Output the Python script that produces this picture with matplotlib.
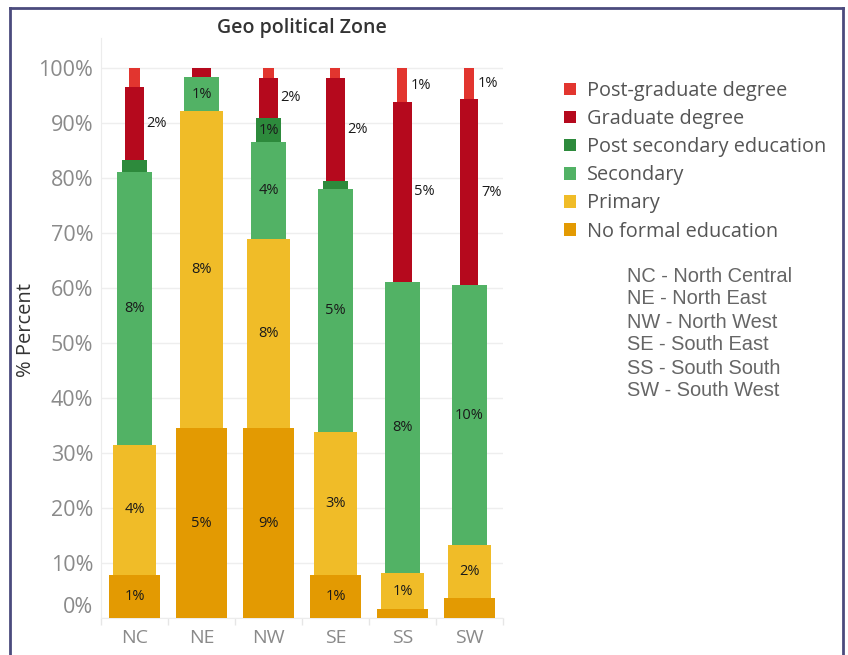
import matplotlib
matplotlib.use("Agg")
import matplotlib.pyplot as plt
from matplotlib.patches import Patch
from matplotlib.lines import Line2D
import numpy as np

# Education level shares (%) by geo political zone, bottom to top
zones = ["NC", "NE", "NW", "SE", "SS", "SW"]
levels = ["No formal education", "Primary", "Secondary",
          "Post secondary education", "Graduate degree", "Post-graduate degree"]

no_formal = [7.8, 34.5, 34.5, 7.8, 1.6, 3.7]
primary = [23.7, 57.7, 34.4, 26.0, 6.6, 9.6]
secondary = [49.6, 6.2, 17.6, 44.2, 53.0, 47.2]
post_secondary = [2.2, 0.0, 4.5, 1.5, 0.0, 0.0]
graduate = [13.3, 1.6, 7.2, 18.7, 32.6, 33.9]
post_graduate = [3.4, 0.0, 1.8, 1.8, 6.2, 5.6]

# Labels shown on the segments
no_formal_lbl = ["1%", "5%", "9%", "1%", "", ""]
primary_lbl = ["4%", "8%", "8%", "3%", "1%", "2%"]
secondary_lbl = ["8%", "1%", "4%", "5%", "8%", "10%"]
post_secondary_lbl = ["", "", "1%", "", "", ""]
graduate_lbl = ["2%", "", "2%", "2%", "5%", "7%"]
post_graduate_lbl = ["", "", "", "", "1%", "1%"]

abbreviations = ["NC - North Central", "NE - North East", "NW - North West",
                 "SE - South East", "SS - South South", "SW - South West"]

series = [no_formal, primary, secondary, post_secondary, graduate, post_graduate]
labels = [no_formal_lbl, primary_lbl, secondary_lbl, post_secondary_lbl,
          graduate_lbl, post_graduate_lbl]
colors = ["#e39a02", "#f0bc28", "#52b265", "#2d8a3c", "#b5091d", "#e2352f"]
widths = [0.75, 0.64, 0.51, 0.37, 0.27, 0.15]
outside = [False, False, False, False, True, True]

plt.rcParams["font.family"] = ["Open Sans", "DejaVu Sans"]

fig = plt.figure(figsize=(8.48, 6.55), dpi=100)
ax = fig.add_axes([0.1191, 0.0565, 0.474, 0.8855])

x = np.arange(len(zones))
bottom = np.zeros(len(zones))
for vals, lbls, col, w, out in zip(series, labels, colors, widths, outside):
    vals = np.array(vals)
    ax.bar(x, vals, width=w, bottom=bottom, color=col, linewidth=0, zorder=3)
    for i, t in enumerate(lbls):
        if not t:
            continue
        mid = bottom[i] + vals[i] / 2
        if out:
            ax.annotate(t, (x[i] + w / 2, mid), xytext=(2, 0),
                        textcoords="offset points", ha="left", va="center",
                        fontsize=10.5, color="#1a1a1a", zorder=4)
        else:
            ax.text(x[i], mid, t, ha="center", va="center",
                    fontsize=10.5, color="#1a1a1a", zorder=4)
    bottom += vals

ax.set_xlim(-0.5, len(zones) - 0.5)
ax.set_ylim(0, 105.5)
ax.set_yticks(np.arange(0, 101, 10))
ax.set_yticklabels([f"{v}%" for v in range(0, 101, 10)])
ax.get_yticklabels()[0].set_verticalalignment("bottom")
ax.set_xticks(x)
ax.set_xticklabels(zones)
ax.set_xticks(np.arange(-0.5, len(zones)), minor=True)
ax.tick_params(axis="y", which="major", length=0, labelsize=15.5,
               labelcolor="#8a8a8a", pad=5.5)
ax.tick_params(axis="x", which="major", length=0, labelsize=14,
               labelcolor="#8a8a8a", pad=8)
ax.tick_params(axis="x", which="minor", length=5, color="#e6e6e6", width=1)
ax.tick_params(axis="y", which="minor", length=0)

ax.grid(axis="y", color="#eeeeee", linewidth=1, zorder=0)
for s in ["top", "right"]:
    ax.spines[s].set_visible(False)
ax.spines["left"].set_color("#ececec")
ax.spines["bottom"].set_color("#ececec")

ax.set_ylabel("% Percent", fontsize=14.5, color="#333333")
ax.yaxis.set_label_coords(-0.162, 0.497)
fig.text(302 / 848, 1 - 28 / 655, "Geo political Zone", ha="center", va="center",
         fontsize=14, fontweight="semibold", color="#333333")

handles = [Patch(facecolor=c, edgecolor="none") for c in colors[::-1]]
fig.legend(handles, levels[::-1], loc="upper left",
           bbox_to_anchor=(546 / 848, 1 - 63 / 655), frameon=False,
           fontsize=14.3, labelcolor="#555555", handlelength=0.6,
           handleheight=0.6, handletextpad=0.55, labelspacing=0.41)

for k, t in enumerate(abbreviations):
    fig.text(627 / 848, 1 - (276 + 23 * k) / 655, t, ha="left", va="center",
             fontsize=14.4, color="#666666", family="Liberation Sans")

# frame around the figure
frame = dict(color="#4b4b7d", linewidth=2, transform=fig.transFigure)
fig.add_artist(Line2D([10 / 848, 10 / 848], [0, 1 - 8 / 655], **frame))
fig.add_artist(Line2D([10 / 848, 843 / 848], [1 - 8 / 655, 1 - 8 / 655], **frame))
fig.add_artist(Line2D([843 / 848, 843 / 848], [0, 1 - 8 / 655], **frame))

fig.savefig("out.png", dpi=100)
